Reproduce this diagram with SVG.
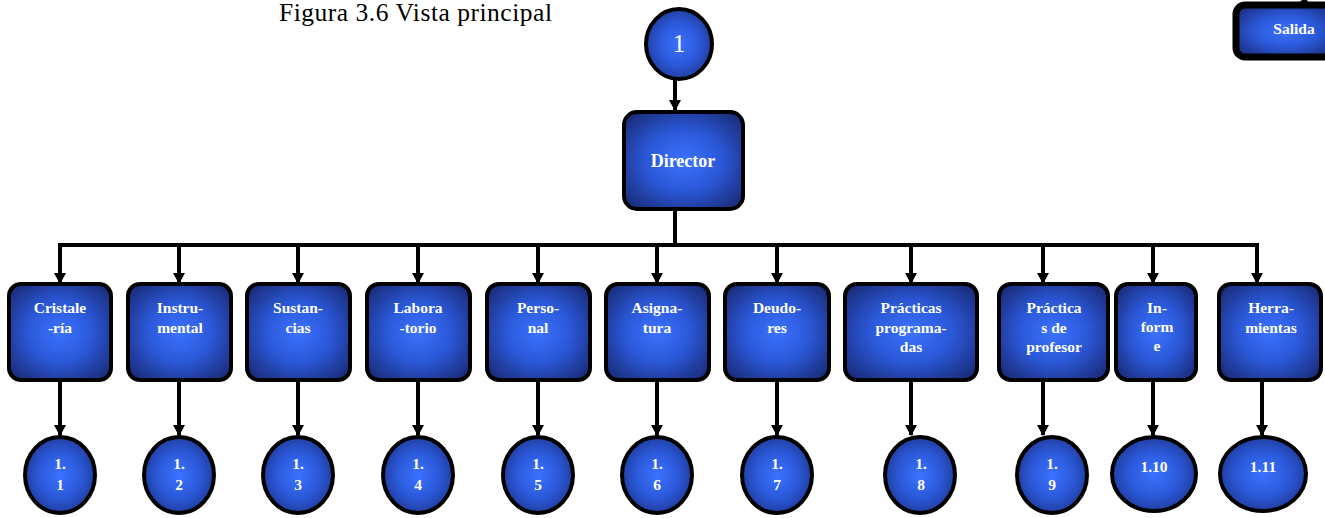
<svg xmlns="http://www.w3.org/2000/svg" width="1325" height="518" viewBox="0 0 1325 518">
<defs>
<radialGradient id="g" cx="50%" cy="50%" r="62%">
<stop offset="0" stop-color="#3b72ff"/>
<stop offset="0.5" stop-color="#2b58d8"/>
<stop offset="1" stop-color="#1b2f80"/>
</radialGradient>
<marker id="ah" markerUnits="userSpaceOnUse" markerWidth="12" markerHeight="12" refX="10" refY="6" orient="auto">
<path d="M0,0 L11,6 L0,12 Z" fill="#000"/>
</marker>
<style>
.n{fill:url(#g);stroke:#000;stroke-width:4}
.t{font-family:"Liberation Serif","Times New Roman",serif;font-weight:bold;fill:#fff;font-size:15.5px;text-anchor:middle}
.c{stroke:#000;stroke-width:4;fill:none}
.a{marker-end:url(#ah)}
</style>
</defs>
<text x="279" y="21" font-family="Liberation Serif, Times New Roman, serif" font-size="25.5" textLength="273" lengthAdjust="spacing" fill="#000">Figura 3.6 Vista principal</text>
<g id="connectors">
<line class="c a" x1="675" y1="80" x2="675" y2="110"/>
<polyline class="c" points="675,210 675,245"/>
<line class="c" x1="58" y1="245" x2="1259" y2="245"/>
<line class="c a" x1="60" y1="245" x2="60" y2="283"/>
<line class="c a" x1="179" y1="245" x2="179" y2="283"/>
<line class="c a" x1="298" y1="245" x2="298" y2="283"/>
<line class="c a" x1="418" y1="245" x2="418" y2="283"/>
<line class="c a" x1="538" y1="245" x2="538" y2="283"/>
<line class="c a" x1="657" y1="245" x2="657" y2="283"/>
<line class="c a" x1="777" y1="245" x2="777" y2="283"/>
<line class="c a" x1="911" y1="245" x2="911" y2="283"/>
<line class="c a" x1="1043" y1="245" x2="1043" y2="283"/>
<line class="c a" x1="1153" y1="245" x2="1153" y2="283"/>
<line class="c a" x1="1257" y1="245" x2="1257" y2="283"/>
<line class="c a" x1="60" y1="380" x2="60" y2="435"/>
<line class="c a" x1="179" y1="380" x2="179" y2="435"/>
<line class="c a" x1="298" y1="380" x2="298" y2="435"/>
<line class="c a" x1="418" y1="380" x2="418" y2="435"/>
<line class="c a" x1="538" y1="380" x2="538" y2="435"/>
<line class="c a" x1="657" y1="380" x2="657" y2="435"/>
<line class="c a" x1="777" y1="380" x2="777" y2="435"/>
<line class="c a" x1="911" y1="380" x2="911" y2="435"/>
<line class="c a" x1="1043" y1="380" x2="1043" y2="435"/>
<line class="c a" x1="1153" y1="380" x2="1153" y2="435"/>
<line class="c a" x1="1262" y1="380" x2="1262" y2="435"/>
<line class="c" x1="1301" y1="3" x2="1307" y2="0"/>
</g>
<g id="n1"><ellipse class="n" cx="679" cy="44" rx="33" ry="35"/><text x="679" y="52" font-family="Liberation Serif, Times New Roman, serif" font-size="25" fill="#fff" text-anchor="middle">1</text></g>
<g id="salida"><rect x="1236" y="5" width="100" height="52" rx="9" fill="url(#g)" stroke="#000" stroke-width="7"/><text class="t" x="1294" y="34">Salida</text></g>
<g id="director"><rect class="n" x="624" y="112" width="119" height="97" rx="13"/><text class="t" x="683" y="167" style="font-size:18px">Director</text></g>
<g id="b1"><rect class="n" x="9" y="284" width="102" height="96" rx="12"/><text class="t" x="60" y="313">Cristale</text><text class="t" x="60" y="333">-ría</text></g>
<g id="b2"><rect class="n" x="128" y="284" width="103" height="96" rx="12"/><text class="t" x="180" y="313">Instru-</text><text class="t" x="180" y="333">mental</text></g>
<g id="b3"><rect class="n" x="247" y="284" width="103" height="96" rx="12"/><text class="t" x="298" y="313">Sustan-</text><text class="t" x="298" y="333">cias</text></g>
<g id="b4"><rect class="n" x="367" y="284" width="103" height="96" rx="12"/><text class="t" x="418" y="313">Labora</text><text class="t" x="418" y="333">-torio</text></g>
<g id="b5"><rect class="n" x="487" y="284" width="103" height="96" rx="12"/><text class="t" x="538" y="313">Perso-</text><text class="t" x="538" y="333">nal</text></g>
<g id="b6"><rect class="n" x="606" y="284" width="103" height="96" rx="12"/><text class="t" x="657" y="313">Asigna-</text><text class="t" x="657" y="333">tura</text></g>
<g id="b7"><rect class="n" x="725" y="284" width="104" height="96" rx="12"/><text class="t" x="777" y="313">Deudo-</text><text class="t" x="777" y="333">res</text></g>
<g id="b8"><rect class="n" x="845" y="284" width="132" height="96" rx="12"/><text class="t" x="911" y="313">Prácticas</text><text class="t" x="911" y="333">programa-</text><text class="t" x="911" y="352">das</text></g>
<g id="b9"><rect class="n" x="999" y="284" width="109" height="96" rx="12"/><text class="t" x="1054" y="313">Práctica</text><text class="t" x="1054" y="333">s de</text><text class="t" x="1054" y="352">profesor</text></g>
<g id="b10"><rect class="n" x="1116" y="284" width="80" height="96" rx="12"/><text class="t" x="1157" y="313">In-</text><text class="t" x="1157" y="332">form</text><text class="t" x="1157" y="351">e</text></g>
<g id="b11"><rect class="n" x="1219" y="284" width="102" height="96" rx="12"/><text class="t" x="1271" y="313">Herra-</text><text class="t" x="1271" y="333">mientas</text></g>
<g id="c1"><ellipse class="n" cx="60" cy="475" rx="35" ry="38"/><text class="t" x="60" y="469">1.</text><text class="t" x="60" y="490">1</text></g>
<g id="c2"><ellipse class="n" cx="179" cy="475" rx="35" ry="38"/><text class="t" x="179" y="469">1.</text><text class="t" x="179" y="490">2</text></g>
<g id="c3"><ellipse class="n" cx="298" cy="475" rx="35" ry="38"/><text class="t" x="298" y="469">1.</text><text class="t" x="298" y="490">3</text></g>
<g id="c4"><ellipse class="n" cx="418" cy="475" rx="35" ry="38"/><text class="t" x="418" y="469">1.</text><text class="t" x="418" y="490">4</text></g>
<g id="c5"><ellipse class="n" cx="538" cy="475" rx="35" ry="38"/><text class="t" x="538" y="469">1.</text><text class="t" x="538" y="490">5</text></g>
<g id="c6"><ellipse class="n" cx="657" cy="475" rx="35" ry="38"/><text class="t" x="657" y="469">1.</text><text class="t" x="657" y="490">6</text></g>
<g id="c7"><ellipse class="n" cx="777" cy="475" rx="35" ry="38"/><text class="t" x="777" y="469">1.</text><text class="t" x="777" y="490">7</text></g>
<g id="c8"><ellipse class="n" cx="920" cy="475" rx="35" ry="38"/><text class="t" x="921" y="469">1.</text><text class="t" x="921" y="490">8</text></g>
<g id="c9"><ellipse class="n" cx="1052" cy="475" rx="35" ry="38"/><text class="t" x="1052" y="469">1.</text><text class="t" x="1052" y="490">9</text></g>
<g id="c10"><ellipse class="n" cx="1154" cy="474" rx="42" ry="37"/><text class="t" x="1154" y="472">1.10</text></g>
<g id="c11"><ellipse class="n" cx="1263" cy="474" rx="43" ry="37"/><text class="t" x="1263" y="472">1.11</text></g>
</svg>
